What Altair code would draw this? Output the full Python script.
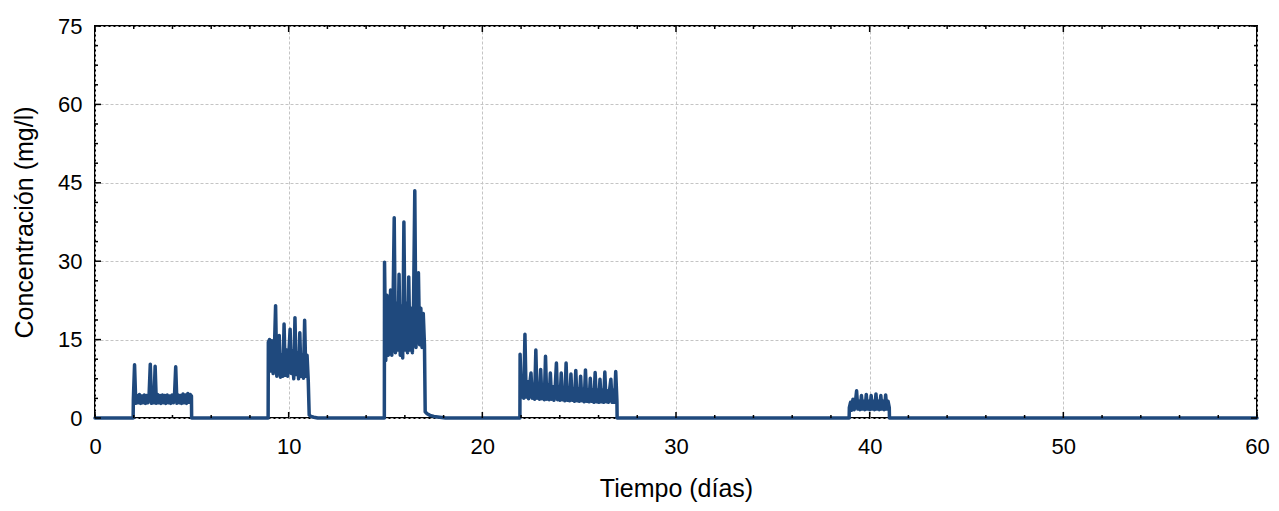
import altair as alt
import pandas as pd

# ---- data (time in days, concentration in mg/l) ----
step = 0.0625  # sampling interval of the bursts (days)

b1_start = 1.98
b1_vals = [3.5, 10.2, 2.8, 4.3, 2.9, 4.5, 2.8, 4.2, 2.9, 4.4, 2.8, 4.3, 2.9, 4.4,
           10.3, 2.8, 4.3, 2.9, 9.9, 2.8, 4.5, 2.9, 4.3, 2.8, 4.4, 2.9, 4.3, 2.8,
           4.4, 2.9, 4.2, 2.8, 4.4, 2.9, 4.3, 9.8, 2.8, 4.4, 2.9, 4.3, 2.8, 4.6,
           2.9, 4.4, 2.8, 4.7, 3.0, 4.5, 4.2]

b2_start = 8.95
b2_vals = [14.5, 15.0, 9.0, 14.8, 8.5, 13.0, 21.5, 8.0, 12.5, 15.8, 7.8, 12.0,
           8.0, 18.0, 8.2, 13.0, 8.0, 12.5, 17.0, 8.5, 12.8, 7.5, 19.2, 8.3,
           12.5, 7.5, 16.3, 8.0, 12.0, 7.6, 18.7, 8.0, 12.0, 7.0]
b2_tail_t = [11.06, 11.15, 11.3, 11.5]
b2_tail_v = [0.6, 0.3, 0.15, 0.0]

b3_start = 14.95
b3_vals = [29.8, 11.0, 23.5, 12.0, 12.5, 24.5, 12.0, 21.0, 38.3, 12.5, 22.0,
           13.0, 27.5, 12.0, 21.5, 11.5, 37.5, 13.0, 22.0, 12.5, 27.0, 13.0,
           21.0, 12.5, 22.5, 43.5, 13.5, 23.0, 27.8, 14.0, 21.0, 13.5, 20.0,
           14.0]
b3_tail_t = [17.05, 17.15, 17.3, 17.5, 17.8, 18.1]
b3_tail_v = [1.2, 0.8, 0.5, 0.3, 0.15, 0.0]

b4_start = 21.95
b4_vals = [12.2, 4.0, 7.5, 3.8, 16.0, 4.0, 7.0, 3.7, 6.5, 8.6, 3.8, 6.5, 3.6,
           13.0, 3.8, 6.5, 3.6, 9.3, 3.7, 6.2, 3.5, 11.8, 3.6, 6.2, 3.5, 8.6,
           3.6, 6.0, 3.4, 5.8, 10.5, 3.5, 6.0, 3.4, 8.6, 3.5, 5.8, 3.3, 10.5,
           3.4, 5.8, 3.3, 8.4, 3.4, 5.6, 3.2, 9.1, 3.3, 5.6, 3.2, 8.0, 3.3, 5.5,
           3.1, 9.2, 3.2, 5.4, 3.1, 7.6, 3.2, 5.4, 3.0, 8.7, 3.1, 5.3, 3.0, 7.4,
           3.1, 5.3, 3.0, 8.8, 3.1, 5.2, 3.0, 5.5, 7.4, 3.0, 5.3, 3.0, 8.9, 3.2]

b5_start = 38.95
b5_vals = [2.0, 3.0, 1.5, 3.6, 1.6, 3.0, 5.2, 1.7, 3.2, 1.6, 4.3, 1.7, 3.2, 1.6,
           4.5, 1.7, 3.2, 1.6, 4.3, 1.7, 3.2, 1.6, 4.6, 1.7, 3.2, 1.6, 4.3, 1.7,
           3.2, 1.6, 4.4, 1.7, 3.2, 2.0]

x_major = [0, 10, 20, 30, 40, 50, 60]
x_minor = [2, 4, 6, 8, 12, 14, 16, 18, 22, 24, 26, 28, 32, 34, 36, 38,
           42, 44, 46, 48, 52, 54, 56, 58]
y_major = [0, 15, 30, 45, 60, 75]
y_minor = [3.75, 7.5, 11.25, 18.75, 22.5, 26.25, 33.75, 37.5, 41.25,
           48.75, 52.5, 56.25, 63.75, 67.5, 71.25]

# ---- build the series table ----
rows = [(0.0, 0.0)]


def add_burst(start, vals, tail_t=None, tail_v=None):
    rows.append((start - 0.01, 0.0))
    for i, v in enumerate(vals):
        rows.append((start + i * step, v))
    if tail_t:
        rows.extend(zip(tail_t, tail_v))
    else:
        rows.append((start + (len(vals) - 1) * step + 0.01, 0.0))


add_burst(b1_start, b1_vals)
add_burst(b2_start, b2_vals, b2_tail_t, b2_tail_v)
add_burst(b3_start, b3_vals, b3_tail_t, b3_tail_v)
add_burst(b4_start, b4_vals)
add_burst(b5_start, b5_vals)
rows.append((60.0, 0.0))

df = pd.DataFrame(rows, columns=["t", "c"])

W, H = 1162, 392
FONT = "Liberation Sans"

xscale = alt.Scale(domain=[0, 60], nice=False, zero=False)
yscale = alt.Scale(domain=[0, 75], nice=False)

xaxis = alt.Axis(values=x_major, title="Tiempo (días)", format="d",
                 labelPadding=18, titlePadding=19, labelFlush=False)
yaxis = alt.Axis(values=y_major, title="Concentración (mg/l)", format="d",
                 labelPadding=13, titlePadding=20, labelFlush=False)

line = alt.Chart(df).mark_line(
    color="#1F497D", strokeWidth=3.5, strokeJoin="round", strokeCap="round"
).encode(
    x=alt.X("t:Q", scale=xscale, axis=xaxis),
    y=alt.Y("c:Q", scale=yscale, axis=yaxis),
)

dfx_major = pd.DataFrame({"t": x_major})
dfx_minor = pd.DataFrame({"t": x_minor})
dfy_major = pd.DataFrame({"c": y_major})
dfy_minor = pd.DataFrame({"c": y_minor})

tick_style = dict(color="black", strokeWidth=1.5)


def xticks(d, length):
    bottom = alt.Chart(d).mark_rule(**tick_style).encode(
        x=alt.X("t:Q", scale=xscale, axis=xaxis),
        y=alt.value(H), y2=alt.value(H - length))
    top = alt.Chart(d).mark_rule(**tick_style).encode(
        x=alt.X("t:Q", scale=xscale, axis=xaxis),
        y=alt.value(0), y2=alt.value(length))
    return [bottom, top]


def yticks(d, length):
    left = alt.Chart(d).mark_rule(**tick_style).encode(
        y=alt.Y("c:Q", scale=yscale, axis=yaxis),
        x=alt.value(0), x2=alt.value(length))
    right = alt.Chart(d).mark_rule(**tick_style).encode(
        y=alt.Y("c:Q", scale=yscale, axis=yaxis),
        x=alt.value(W), x2=alt.value(W - length))
    return [left, right]


layers = [line] + xticks(dfx_major, 6) + xticks(dfx_minor, 3) \
    + yticks(dfy_major, 6) + yticks(dfy_minor, 3)

chart = alt.layer(*layers).properties(
    width=W, height=H,
    autosize=alt.AutoSizeParams(type="none"),
    padding={"left": 87, "top": 18, "right": 14, "bottom": 84},
).configure_view(
    stroke="black", strokeWidth=2
).configure_axis(
    grid=True, gridColor="#c4c4c4", gridDash=[3, 2], gridWidth=1,
    ticks=False, tickSize=0, domain=False,
    labelFont=FONT, labelFontSize=22, labelColor="black",
    titleFont=FONT, titleFontSize=25, titleColor="black", titleFontWeight="normal",
)

chart.save("out.html", embed_options={"renderer": "svg", "actions": False})
